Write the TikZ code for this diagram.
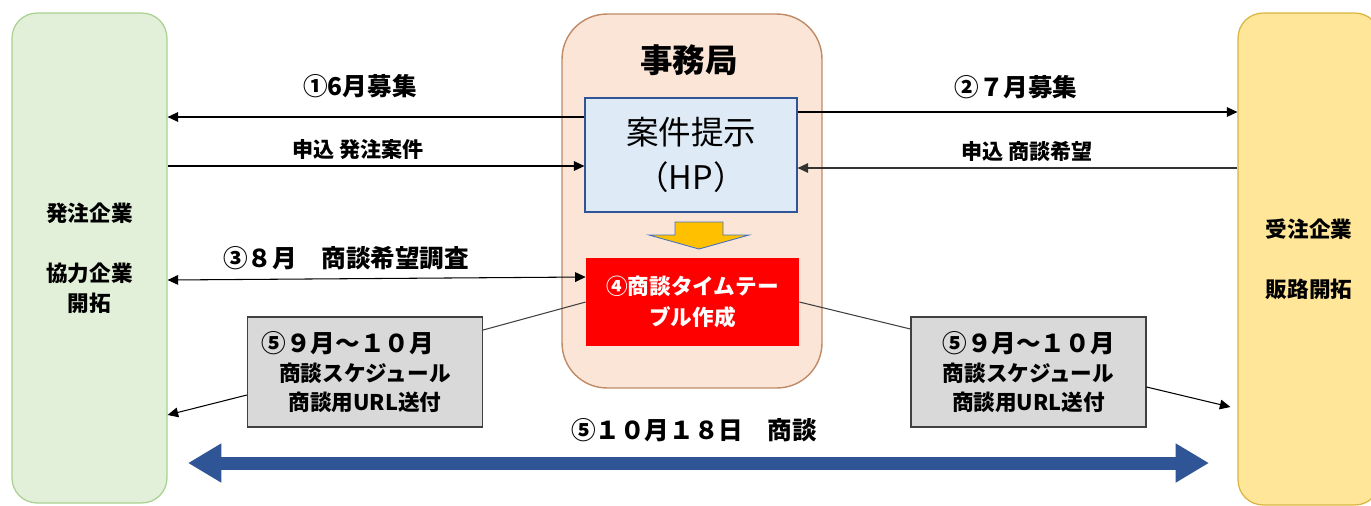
\documentclass[tikz,border=0pt]{standalone}
\usepackage{fontspec}
\setmainfont{Noto Sans CJK JP}
\usetikzlibrary{arrows.meta,calc}
\definecolor{orderGreen}{HTML}{E2F0D9}
\definecolor{orderGreenLine}{HTML}{A9D18E}
\definecolor{sellYellow}{HTML}{FFE699}
\definecolor{sellLine}{HTML}{D9B43F}
\definecolor{officePeach}{HTML}{FBE5D6}
\definecolor{officeLine}{HTML}{BF8A66}
\definecolor{hpBlue}{HTML}{DEEBF7}
\definecolor{hpLine}{HTML}{2F5597}
\definecolor{schedGray}{HTML}{D9D9D9}
\definecolor{stepGold}{HTML}{FFC000}
\definecolor{stepLine}{HTML}{4472C4}
\definecolor{meetBlue}{HTML}{2F5597}
\tikzset{company/.style={draw, line width=0.7pt, rounded corners=0.5cm, align=center,
   inner sep=0pt, font=\bfseries\fontsize{12.3}{17}\selectfont},
 hpbox/.style={draw=hpLine, fill=hpBlue, line width=0.7pt, align=center, inner sep=0pt,
   minimum width=4.24cm, minimum height=2.28cm, font=\fontsize{18.5}{26}\selectfont},
 redbox/.style={fill=red, text=white, align=center, inner sep=0pt,
   minimum width=4.26cm, minimum height=1.76cm, font=\bfseries\fontsize{12.3}{17.5}\selectfont},
 schedbox/.style={draw=black!75, fill=schedGray, line width=0.7pt, align=center, inner sep=0pt,
   minimum width=4.7cm, minimum height=2.2cm, font=\bfseries\fontsize{12.3}{16.5}\selectfont},
 lbl/.style={font=\bfseries\fontsize{14}{17}\selectfont},
 smalllbl/.style={font=\bfseries\fontsize{12}{15}\selectfont},
 conn/.style={->, line width=0.6pt},
 link/.style={line width=0.6pt, draw=black!75},
 meet/.style={{Triangle[length=19pt,width=21pt]}-{Triangle[length=19pt,width=21pt]},
   line width=7.4pt, draw=meetBlue},
}

\begin{document}
\begin{tikzpicture}[x=0.02cm, y=-0.02cm, >={Triangle[length=6pt,width=5.5pt]}]
    \useasboundingbox (0,0) rectangle (1371,505);
    % companies on both sides
    \node[company, fill=orderGreen, draw=orderGreenLine, minimum width=3.1cm, minimum height=9.8cm]
        (hatchu) at (89.5,258) {発注企業\\[17pt]協力企業\\開拓};
    \node[company, fill=sellYellow, draw=sellLine, minimum width=2.84cm, minimum height=9.84cm]
        (juchu) at (1309,259) {受注企業\\[17pt]販路開拓};
    % office in the middle
    \node[draw=officeLine, fill=officePeach, line width=0.8pt, rounded corners=0.9cm,
        minimum width=5.2cm, minimum height=7.48cm] (office) at (692,201) {};
    \node[font=\bfseries\fontsize{18.5}{22}\selectfont] (officeTitle) at (689,60) {事務局};
    \node[hpbox] (hp) at (691,155) {案件提示\\（HP）};
    \draw[fill=stepGold, draw=stepLine, line width=0.5pt] (675,222) -- (723,222) -- (723,235) -- (749,235)
        -- (699,249) -- (649,235) -- (675,235) -- cycle;
    \node[redbox] (timetable) at (692.5,302) {④商談タイムテー\\ブル作成};
    \foreach \x/\n/\s in {365/schedL/1.4em, 1028.5/schedR/0em} {
        \node[schedbox] (\n) at (\x,372)
            {{\fontsize{14}{17}\selectfont ⑤９月～１０月\hspace*{\s}}\\商談スケジュール\\商談用URL送付};
    }
    % recruiting and applications
    \draw[conn] (hp.west |- 0,117) -- (hatchu.east |- 0,117);
    \node[lbl] (lblA) at (360,86) {①6月募集};
    \draw[conn] (hatchu.east |- 0,166) -- (hp.west |- 0,166);
    \node[smalllbl] (lblB) at (358,150) {申込 発注案件};
    \draw[conn] (hp.east |- 0,112) -- (juchu.west |- 0,112);
    \node[lbl] (lblC) at (1016,87) {②７月募集};
    \draw[conn, draw=black!80] (juchu.west |- 0,168) -- (hp.east |- 0,168);
    \node[smalllbl] (lblD) at (1027,151) {申込 商談希望};
    \draw[conn, <->] (hatchu.east |- 0,280) -- (timetable.west |- 0,277);
    \node[lbl] (lblE) at (346,258) {③８月　商談希望調査};
    % schedules
    \draw[link] (timetable.west |- 0,302) -- (schedL.east |- 0,330);
    \draw[conn] (schedL.west |- 0,395) -- (hatchu.east |- 0,415);
    \draw[link] (timetable.east |- 0,302) -- (schedR.west |- 0,329);
    \draw[conn] (schedR.east |- 0,387) -- ($(juchu.west |- 0,407)+(-7,0)$);
    % meeting day
    \coordinate (meetL) at (188,463);
    \coordinate (meetR) at (1209,463);
    \draw[meet] (meetL) -- (meetR);
    \node[lbl] (lblF) at (694,430) {⑤１０月１８日　商談};
\end{tikzpicture}
\end{document}
